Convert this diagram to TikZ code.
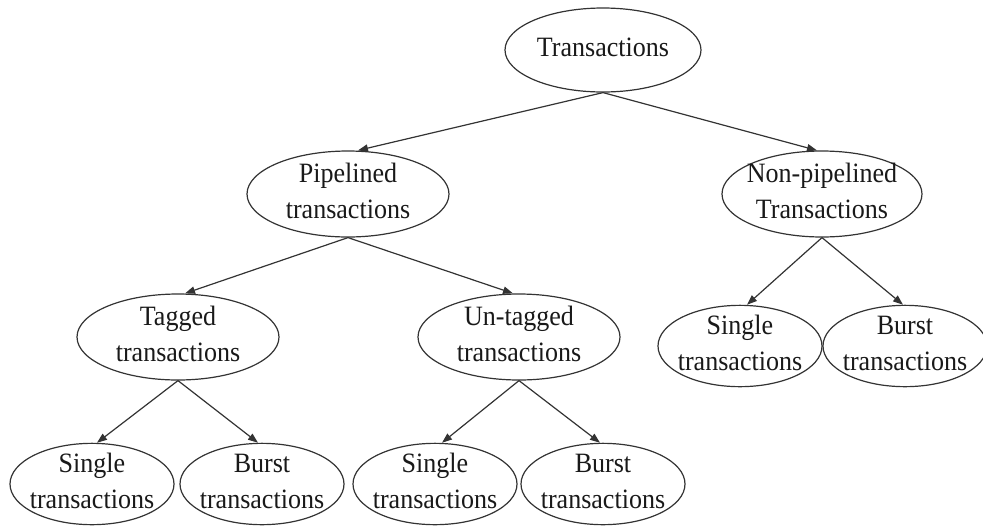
\documentclass[tikz,border=0pt]{standalone}
\usepackage{fontspec}
\setmainfont{Liberation Serif}[FakeStretch=0.93]
\usetikzlibrary{arrows.meta,shapes.geometric}
\newcommand{\txl}[1]{\raisebox{-9.3pt}{\makebox[0pt]{\smash{\begin{tabular}{@{}c@{}}#1\end{tabular}}}}}
\tikzset{
  ell/.style={ellipse, draw=black!80, line width=0.9pt, inner sep=0pt,
     text=black!90, font=\fontsize{21pt}{26.5pt}\selectfont},
  bigell/.style={ell, minimum width=151.5pt, minimum height=64.5pt},
  smallell/.style={ell, minimum width=123pt, minimum height=61pt},
  topell/.style={ell, minimum width=147pt, minimum height=63pt},
  arr/.style={draw=black!80, line width=0.9pt, -{Triangle[length=7.5pt,width=5.5pt]}}
}
\begin{document}
\begin{tikzpicture}[x=0.75pt,y=-0.75pt]
\useasboundingbox (0,0) rectangle (983,526);
\node[topell] (T) at (603,50) {\txl{Transactions}};
\node[bigell] (P) at (348,194) {\txl{Pipelined\\transactions}};
\node[bigell, minimum width=150pt] (N) at (822,194) {\txl{Non-pipelined\\Transactions}};
\node[bigell] (Tg) at (178,337) {\txl{Tagged\\transactions}};
\node[bigell] (U) at (519,337) {\txl{Un-tagged\\transactions}};
\node[smallell] (S1) at (92,484) {\txl{Single\\transactions}};
\node[smallell] (B1) at (262,484) {\txl{Burst\\transactions}};
\node[smallell] (S2) at (435,484) {\txl{Single\\transactions}};
\node[smallell] (B2) at (603,484) {\txl{Burst\\transactions}};
\node[smallell] (S3) at (740,346) {\txl{Single\\transactions}};
\node[smallell] (B3) at (905,346) {\txl{Burst\\transactions}};
\draw[arr] (T.south) -- ([xshift=7.5pt]P.north);
\draw[arr] (T.south) -- ([xshift=-3.75pt]N.north);
\draw[arr] (P.south) -- ([xshift=5.25pt]Tg.north);
\draw[arr] (P.south) -- ([xshift=-4.5pt]U.north);
\draw[arr] (Tg.south) -- ([xshift=3.75pt]S1.north);
\draw[arr] (Tg.south) -- ([xshift=-3pt]B1.north);
\draw[arr] (U.south) -- ([xshift=5.25pt]S2.north);
\draw[arr] (U.south) -- ([xshift=-2.25pt]B2.north);
\draw[arr] (N.south) -- ([xshift=5.25pt]S3.north);
\draw[arr] (N.south) -- ([xshift=-1.5pt]B3.north);
\end{tikzpicture}
\end{document}
